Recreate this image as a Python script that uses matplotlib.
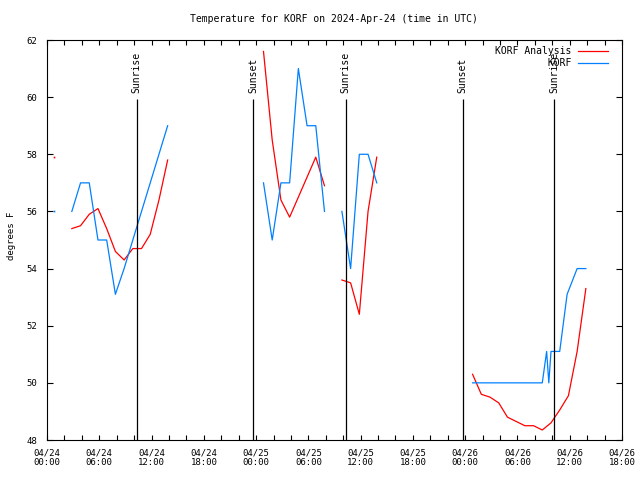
import numpy as np
import matplotlib
matplotlib.use('Agg')
import matplotlib.pyplot as plt

MONO = 'DejaVu Sans Mono'
nan = np.nan

# hours since 2024-04-24 00:00 UTC
obs_hours = [0.75, nan,
             2.85, 3.85, 4.85, 5.85, 6.85, 7.85, 8.85, 9.85, 10.85, 11.85, 12.85, 13.85, nan,
             24.85, 25.85, 26.85, 27.85, 28.85, 29.85, 30.85, 31.85, nan,
             33.85, 34.85, 35.85, 36.85, 37.85, nan,
             48.85, 49.85, 50.85, 51.85, 52.85, 53.85, 54.85, 55.85, 56.85,
             57.35, 57.6, 57.85, 58.85, 59.7, 60.85, 61.85]
obs_temp = [56.0, nan,
            56, 57, 57, 55, 55, 53.1, 54, 55, 56, 57, 58, 59, nan,
            57, 55, 57, 57, 61, 59, 59, 56, nan,
            56, 54, 58, 58, 57, nan,
            50, 50, 50, 50, 50, 50, 50, 50, 50,
            51.1, 50, 51.1, 51.1, 53.1, 54, 54]

ana_hours = [0.75, nan,
             2.85, 3.85, 4.85, 5.85, 6.85, 7.85, 8.85, 9.85, 10.85, 11.85, 12.85, 13.85, nan,
             24.85, 25.85, 26.85, 27.85, 28.85, 29.85, 30.85, 31.85, nan,
             33.85, 34.85, 35.85, 36.85, 37.85, nan,
             48.85, 49.85, 50.85, 51.85, 52.85, 53.85, 54.85, 55.85, 56.85,
             57.85, 58.85, 59.85, 60.85, 61.85]
ana_temp = [57.9, nan,
            55.4, 55.5, 55.9, 56.1, 55.4, 54.6, 54.3, 54.7, 54.7, 55.2, 56.4, 57.8, nan,
            61.6, 58.5, 56.4, 55.8, 56.5, 57.2, 57.9, 56.9, nan,
            53.6, 53.5, 52.4, 56.0, 57.9, nan,
            50.3, 49.6, 49.5, 49.3, 48.8, 48.65, 48.5, 48.5, 48.35,
            48.6, 49.05, 49.55, 51.1, 53.3]

sun_hours = [10.3, 23.7, 34.27, 47.72, 58.25]
sun_names = ['Sunrise', 'Sunset', 'Sunrise', 'Sunset', 'Sunrise']

xtick_hours = list(range(0, 67, 6))
xtick_labels = ['04/24\n00:00', '04/24\n06:00', '04/24\n12:00', '04/24\n18:00',
                '04/25\n00:00', '04/25\n06:00', '04/25\n12:00', '04/25\n18:00',
                '04/26\n00:00', '04/26\n06:00', '04/26\n12:00', '04/26\n18:00']


def isolated(x, y):
    # points with a gap on both sides get drawn as a dot, like gnuplot does
    y = np.asarray(y, float)
    ok = ~np.isnan(y)
    prev = np.r_[False, ok[:-1]]
    nxt = np.r_[ok[1:], False]
    keep = ok & ~prev & ~nxt
    return np.asarray(x, float)[keep], y[keep]


fig = plt.figure(figsize=(6.4, 4.8), dpi=100)
ax = fig.add_axes([47/640, 40/480, 575/640, 400/480])

ax.plot(ana_hours, ana_temp, color='#ff0000', lw=0.9, label='KORF Analysis')
ax.plot(*isolated(ana_hours, ana_temp), ls='none', marker='s', ms=1.2, mew=0, color='#ff0000')
ax.plot(obs_hours, obs_temp, color='#0080ff', lw=0.9, label='KORF'.rjust(13))
ax.plot(*isolated(obs_hours, obs_temp), ls='none', marker='s', ms=1.2, mew=0, color='#0080ff')

ax.vlines(sun_hours, 48, 59.95, color='black', lw=0.9)
for h, name in zip(sun_hours, sun_names):
    ax.text(h, 60.15, name, rotation=90, ha='center', va='bottom',
            fontsize=7, family=MONO)

ax.set_xlim(0, 66)
ax.set_ylim(48, 62)
ax.set_xticks(xtick_hours)
ax.set_xticklabels(xtick_labels, family=MONO, fontsize=6.5, linespacing=1.05)
ax.set_xticks(np.arange(0, 67, 2), minor=True)
ax.set_yticks(np.arange(48, 63, 2))
ax.set_yticklabels([str(v) for v in range(48, 63, 2)], family=MONO, fontsize=6.5)
ax.tick_params(which='both', direction='in', top=True, right=True, width=0.8)
ax.tick_params(axis='x', which='both', length=3.5, pad=6)
ax.tick_params(axis='y', length=4, pad=7)
for s in ax.spines.values():
    s.set_linewidth(0.8)

ax.legend(loc='upper right', bbox_to_anchor=(0.98, 0.992), frameon=False,
          markerfirst=False, prop={'family': MONO, 'size': 7},
          handlelength=3.0, handletextpad=0.7, labelspacing=0.2,
          borderaxespad=0.1, borderpad=0.2)

fig.text(0.522, 1 - 19/480, 'Temperature for KORF on 2024-Apr-24 (time in UTC)',
         ha='center', va='center', fontsize=7, family=MONO)
fig.text(12/640, 1 - 236/480, 'degrees F', rotation=90, ha='center', va='center',
         fontsize=6.5, family=MONO)

fig.savefig('out.png', dpi=100)
